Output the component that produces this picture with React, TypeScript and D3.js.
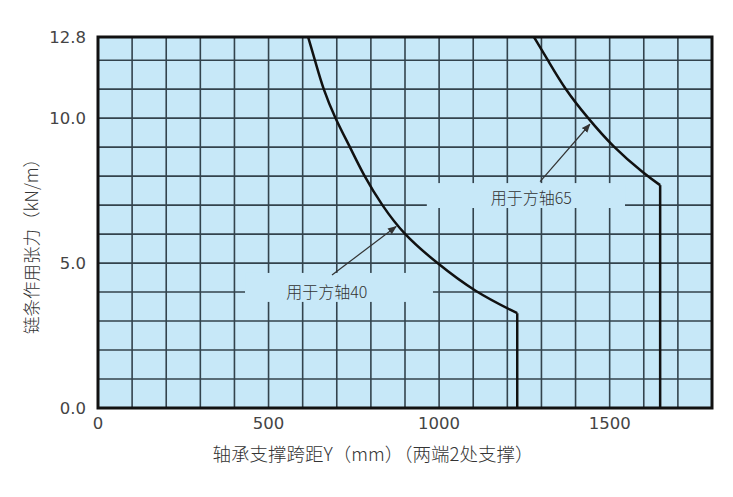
import React from 'react';
import * as d3 from 'd3';

// curve points: [span mm, tension kN/m]
const curve40: [number, number][] = [
  [616, 12.8], [636, 12], [660, 11], [695, 10], [739, 9], [780, 8],
  [832, 7], [895, 6], [993, 5], [1105, 4], [1229, 3.27],
];
const curve40End: [number, number][] = [[1229, 3.27], [1229, 0]];

const curve65: [number, number][] = [
  [1278, 12.8], [1319, 12], [1369, 11], [1436, 10], [1510, 9], [1604, 8.05], [1648, 7.69],
];
const curve65End: [number, number][] = [[1648, 7.69], [1648, 0]];

const xTicks = [0, 500, 1000, 1500];
const yTicks = [0, 5, 10, 12.8];
const xGrid = d3.range(100, 1800, 100);
const yGrid = d3.range(1, 13, 1);

// annotation: label, label pos, patch [x0,x1,y0,y1], arrow [from, to]
const labels = ['用于方轴40', '用于方轴65'];
const labelPos: [number, number][] = [[671, 4.0], [1270, 7.24]];
const patches: [number, number, number, number][] = [
  [431, 982, 3.66, 4.66],
  [964, 1545, 6.9, 7.76],
];
const arrows: [number, number, number, number][] = [
  [686, 4.59, 874, 6.26],
  [1296, 7.81, 1442, 9.79],
];

const W = 733;
const H = 497;
const margin = { top: 37, right: 21, bottom: 89, left: 98 };

export default function App() {
  const x = d3.scaleLinear().domain([0, 1800]).range([margin.left, W - margin.right]);
  const y = d3.scaleLinear().domain([0, 12.8]).range([H - margin.bottom, margin.top]);

  const smooth = d3.line<[number, number]>()
    .x(d => x(d[0]))
    .y(d => y(d[1]))
    .curve(d3.curveBasis);
  const straight = d3.line<[number, number]>()
    .x(d => x(d[0]))
    .y(d => y(d[1]));

  const fill = '#c7e8f8';
  const gridColor = '#33434d';
  const tickFont = '"DejaVu Sans", sans-serif';
  const cjkFont = '"Noto Sans CJK SC", "Noto Sans", sans-serif';

  return (
    <div style={{ position: 'fixed', left: 0, top: 0, width: W, height: H, background: '#fff' }}>
      <svg width={W} height={H}>
        <defs>
          <marker id="arrowHead" viewBox="0 0 10 10" refX="9" refY="5"
            markerWidth="9" markerHeight="9" markerUnits="userSpaceOnUse" orient="auto">
            <path d="M0,1 L10,5 L0,9 Z" fill="#333" />
          </marker>
        </defs>

        {/* plot background */}
        <rect x={x(0)} y={y(12.8)} width={x(1800) - x(0)} height={y(0) - y(12.8)} fill={fill} />

        {/* grid */}
        {xGrid.map(v => (
          <line key={'gx' + v} x1={x(v)} x2={x(v)} y1={y(0)} y2={y(12.8)}
            stroke={gridColor} strokeWidth={1.6} />
        ))}
        {yGrid.map(v => (
          <line key={'gy' + v} x1={x(0)} x2={x(1800)} y1={y(v)} y2={y(v)}
            stroke={gridColor} strokeWidth={1.6} />
        ))}

        {/* label patches that blank the grid */}
        {patches.map((p, i) => (
          <rect key={'p' + i} x={x(p[0])} y={y(p[3])} width={x(p[1]) - x(p[0])}
            height={y(p[2]) - y(p[3])} fill={fill} />
        ))}

        {/* curves */}
        <path d={smooth(curve40) || ''} fill="none" stroke="#111" strokeWidth={2.5} />
        <path d={straight(curve40End) || ''} fill="none" stroke="#111" strokeWidth={2.5} />
        <path d={smooth(curve65) || ''} fill="none" stroke="#111" strokeWidth={2.5} />
        <path d={straight(curve65End) || ''} fill="none" stroke="#111" strokeWidth={2.5} />

        {/* arrows */}
        {arrows.map((a, i) => (
          <line key={'a' + i} x1={x(a[0])} y1={y(a[1])} x2={x(a[2])} y2={y(a[3])}
            stroke="#333" strokeWidth={1.2} markerEnd="url(#arrowHead)" />
        ))}

        {/* labels */}
        {labels.map((t, i) => (
          <text key={'l' + i} x={x(labelPos[i][0])} y={y(labelPos[i][1])} dy="0.35em"
            textAnchor="middle" fontFamily={cjkFont} fontWeight={300} fontSize={16} fill="#333">{t}</text>
        ))}

        {/* frame */}
        <rect x={x(0)} y={y(12.8)} width={x(1800) - x(0)} height={y(0) - y(12.8)}
          fill="none" stroke="#111" strokeWidth={3} />

        {/* ticks */}
        {yTicks.map(v => (
          <text key={'yt' + v} x={x(0) - 12} y={y(v)} dy="0.35em" textAnchor="end"
            fontFamily={tickFont} fontSize={16.5} fill="#444">{v.toFixed(1)}</text>
        ))}
        {xTicks.map(v => (
          <text key={'xt' + v} x={x(v)} y={y(0) + 15} dy="0.35em" textAnchor="middle"
            fontFamily={tickFont} fontSize={16.5} fill="#444">{v}</text>
        ))}

        {/* axis titles */}
        <text x={373} y={455} dy="0.35em" textAnchor="middle" fontFamily={cjkFont} fontWeight={300}
          fontSize={18.5} fill="#333">轴承支撑跨距Y（mm）（两端2处支撑）</text>
        <text transform="translate(32,242) rotate(-90)" dy="0.35em" textAnchor="middle"
          fontFamily={cjkFont} fontWeight={300} fontSize={17.5} fill="#333">链条作用张力（kN/m）</text>
      </svg>
    </div>
  );
}
